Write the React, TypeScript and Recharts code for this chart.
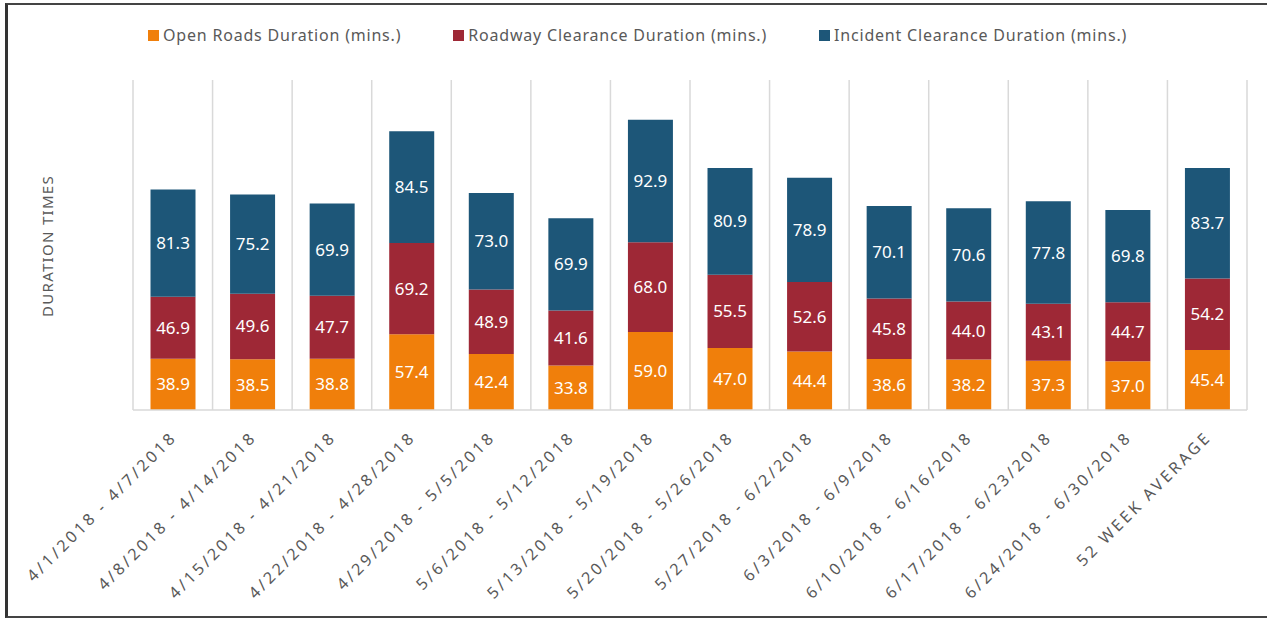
import { Bar, BarChart, CartesianGrid, LabelList, XAxis, YAxis } from "recharts";

const CATEGORIES = [
  "4/1/2018 - 4/7/2018",
  "4/8/2018 - 4/14/2018",
  "4/15/2018 - 4/21/2018",
  "4/22/2018 - 4/28/2018",
  "4/29/2018 - 5/5/2018",
  "5/6/2018 - 5/12/2018",
  "5/13/2018 - 5/19/2018",
  "5/20/2018 - 5/26/2018",
  "5/27/2018 - 6/2/2018",
  "6/3/2018 - 6/9/2018",
  "6/10/2018 - 6/16/2018",
  "6/17/2018 - 6/23/2018",
  "6/24/2018 - 6/30/2018",
  "52 WEEK AVERAGE",
];

const OPEN_ROADS = [38.9, 38.5, 38.8, 57.4, 42.4, 33.8, 59.0, 47.0, 44.4, 38.6, 38.2, 37.3, 37.0, 45.4];
const ROADWAY_CLEARANCE = [46.9, 49.6, 47.7, 69.2, 48.9, 41.6, 68.0, 55.5, 52.6, 45.8, 44.0, 43.1, 44.7, 54.2];
const INCIDENT_CLEARANCE = [81.3, 75.2, 69.9, 84.5, 73.0, 69.9, 92.9, 80.9, 78.9, 70.1, 70.6, 77.8, 69.8, 83.7];

const SERIES = [
  { key: "open", name: "Open Roads Duration (mins.)", color: "#F07F0B" },
  { key: "roadway", name: "Roadway Clearance Duration (mins.)", color: "#9E2836" },
  { key: "incident", name: "Incident Clearance Duration (mins.)", color: "#1D5678" },
];

const data = CATEGORIES.map((name, i) => ({
  name,
  open: OPEN_ROADS[i],
  roadway: ROADWAY_CLEARANCE[i],
  incident: INCIDENT_CLEARANCE[i],
}));

const FONT = "'Noto Sans', 'Open Sans', sans-serif";
const TEXT_GRAY = "#595959";
const GRID_GRAY = "#d9d9d9";

function AngledTick({ x, y, payload }: any) {
  return (
    <g transform={`translate(${x - 3},${y + 18})`}>
      <text
        transform="rotate(-45)"
        textAnchor="end"
        dy="0.72em"
        fill={TEXT_GRAY}
        fontSize={16}
        letterSpacing={3}
        fontFamily={FONT}
      >
        {payload.value}
      </text>
    </g>
  );
}

export default function App() {
  return (
    <div
      style={{
        position: "absolute",
        left: 0,
        top: 0,
        width: 1267,
        height: 618,
        background: "#fff",
        overflow: "hidden",
        fontFamily: FONT,
      }}
    >
      {/* frame */}
      <div
        style={{
          position: "absolute",
          left: 5,
          top: 3,
          width: 1300,
          height: 611,
          borderLeft: "3px solid #333",
          borderTop: "2px solid #444",
          borderBottom: "2px solid #444",
        }}
      />

      {/* legend */}
      <div
        style={{
          position: "absolute",
          left: 148,
          top: 24,
          display: "flex",
          gap: 52,
          fontSize: 16,
          letterSpacing: 0.8,
          color: TEXT_GRAY,
          whiteSpace: "nowrap",
        }}
      >
        {SERIES.map((s) => (
          <div key={s.key} style={{ display: "flex", alignItems: "center", gap: 4 }}>
            <span style={{ width: 11, height: 11, background: s.color, display: "inline-block" }} />
            <span>{s.name}</span>
          </div>
        ))}
      </div>

      {/* y-axis title */}
      <div
        style={{
          position: "absolute",
          left: 47,
          top: 246,
          transform: "translate(-50%, -50%) rotate(-90deg)",
          fontSize: 15,
          letterSpacing: 1.3,
          color: TEXT_GRAY,
          whiteSpace: "nowrap",
        }}
      >
        DURATION TIMES
      </div>

      <div style={{ position: "absolute", left: 0, top: 0 }}>
        <BarChart
          width={1267}
          height={618}
          data={data}
          margin={{ top: 80, right: 20, left: 133, bottom: 0 }}
          barCategoryGap="22%"
        >
          <CartesianGrid
            horizontal={false}
            stroke={GRID_GRAY}
            strokeWidth={1.5}
            verticalCoordinatesGenerator={({ offset }: any) =>
              Array.from(
                { length: CATEGORIES.length + 1 },
                (_, i) => offset.left + (offset.width * i) / CATEGORIES.length
              )
            }
          />
          <XAxis
            dataKey="name"
            interval={0}
            height={208}
            tickLine={false}
            tickSize={0}
            axisLine={{ stroke: GRID_GRAY, strokeWidth: 1.5 }}
            tick={<AngledTick />}
          />
          <YAxis hide width={0} domain={[0, 250]} />
          {SERIES.map((s) => (
            <Bar key={s.key} dataKey={s.key} name={s.name} stackId="a" fill={s.color} isAnimationActive={false}>
              <LabelList
                dataKey={s.key}
                position="center"
                fill="#fff"
                fontSize={17}
                fontFamily={FONT}
                formatter={(v: any) => Number(v).toFixed(1)}
              />
            </Bar>
          ))}
        </BarChart>
      </div>
    </div>
  );
}
